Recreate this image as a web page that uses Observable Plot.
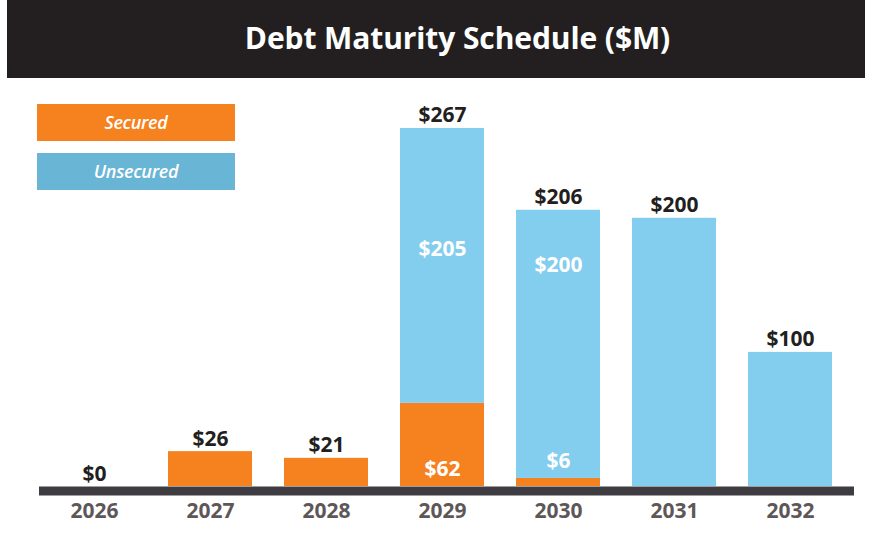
<!DOCTYPE html>
<html>
<head>
<meta charset="utf-8">
<script src="https://cdn.jsdelivr.net/npm/d3@7"></script>
<script src="https://cdn.jsdelivr.net/npm/@observablehq/plot@0.6"></script>
<style>
  html, body { margin: 0; padding: 0; background: #fff; }
  body { width: 876px; height: 536px; position: relative; overflow: hidden; font-family: "Open Sans", Lato, sans-serif; }
  #title {
    position: absolute; left: 7px; top: 0; width: 858px; height: 78px;
    background: #231f20; color: #fff; font-weight: 700; font-size: 30px; letter-spacing: -0.1px;
    box-sizing: border-box; padding-left: 43px; text-align: center; line-height: 76px;
  }
  #chart { position: absolute; left: 0; top: 78px; }
  .legend {
    position: absolute; left: 37px; width: 198px; height: 37px; color: #fff;
    font-style: italic; font-weight: 600; font-size: 18px; text-align: center; line-height: 37px; letter-spacing: -0.3px;
  }
</style>
</head>
<body>
<div id="title">Debt Maturity Schedule ($M)</div>
<div id="chart"></div>
<div class="legend" style="top:104px;background:#f5821f;">Secured</div>
<div class="legend" style="top:153px;background:#68b5d6;">Unsecured</div>
<script>
const years = ["2026", "2027", "2028", "2029", "2030", "2031", "2032"];
const secured = [0, 26, 21, 62, 6, 0, 0];
const unsecured = [0, 0, 0, 205, 200, 200, 100];
const totals = [0, 26, 21, 267, 206, 200, 100];
const seriesNames = ["Secured", "Unsecured"];
const seriesColors = ["#f5821f", "#83cdee"];
// inside labels: year, shown value, level ($M) where the label's baseline sits
const innerYears = ["2029", "2029", "2030", "2030"];
const innerValues = [205, 62, 200, 6];
const innerAt = [172, 7.5, 160, 14];

const rows = [];
years.forEach((y, i) => {
  rows.push({year: y, type: "Secured", value: secured[i]});
  rows.push({year: y, type: "Unsecured", value: unsecured[i]});
});
const totalRows = years.map((y, i) => ({year: y, value: totals[i]}));
const innerRows = innerYears.map((y, i) => ({year: y, value: innerValues[i], at: innerAt[i]}));

const H = 458;
const base = 408;
const pxPerUnit = 1.341;

const chart = Plot.plot({
  width: 876,
  height: H,
  marginLeft: 35.5,
  marginRight: 27,
  marginTop: 0,
  marginBottom: H - base,
  style: {fontFamily: "'Open Sans', Lato, sans-serif", background: "transparent"},
  x: {domain: years, paddingInner: 0.277, paddingOuter: 0.14, axis: null},
  y: {domain: [0, 300], range: [base, base - 300 * pxPerUnit], axis: null},
  color: {domain: seriesNames, range: seriesColors},
  marks: [
    Plot.barY(rows, {x: "year", y: "value", fill: "type"}),
    Plot.ruleY([0], {stroke: "#3e3c41", strokeWidth: 9, dy: 4.5, insetLeft: 3.5, insetRight: -5}),
    Plot.text(totalRows, {
      x: "year", y: "value", text: d => "$" + d.value,
      lineAnchor: "bottom", dy: -6, fill: "#231f20", fontSize: 21, fontWeight: 700, letterSpacing: -0.5
    }),
    Plot.text(innerRows, {
      x: "year", y: "at", text: d => "$" + d.value,
      lineAnchor: "bottom", fill: "#ffffff", fontSize: 21, fontWeight: 700, letterSpacing: -0.5
    }),
    Plot.text(years, {
      x: d => d, frameAnchor: "bottom", lineAnchor: "bottom", dy: 31,
      fill: "#5e5758", fontSize: 21, fontWeight: 700, letterSpacing: -0.3
    })
  ]
});
document.getElementById("chart").appendChild(chart);
</script>
</body>
</html>
